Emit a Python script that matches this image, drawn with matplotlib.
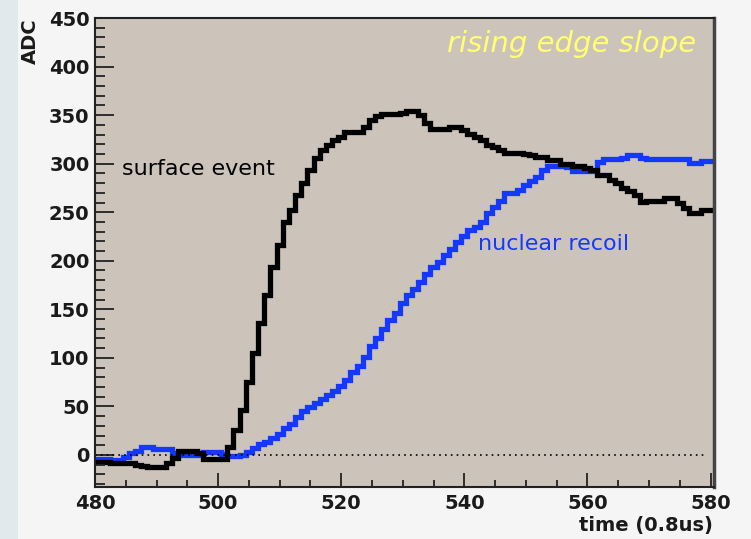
import numpy as np
import matplotlib.pyplot as plt
from matplotlib.patches import Rectangle
from matplotlib.ticker import MultipleLocator

# time bins (units of 0.8 us), one value per bin
time_bins = list(range(480, 581))

surface_event = [
    -7, -7, -7, -8, -8, -8, -8, -10, -11, -12,
    -12, -12, -8, -3, 4, 4, 4, 2, -4, -4,
    -4, -4, 8, 26, 46, 75, 105, 136, 165, 194,
    216, 240, 252, 268, 280, 294, 306, 314, 319, 324,
    328, 333, 333, 333, 338, 345, 349, 351, 351, 351,
    352, 354, 354, 350, 342, 336, 336, 336, 338, 338,
    335, 331, 328, 324, 319, 317, 314, 311, 311, 311,
    310, 309, 307, 307, 304, 304, 300, 300, 298, 298,
    296, 293, 288, 288, 283, 280, 275, 272, 268, 261,
    262, 262, 262, 265, 265, 259, 254, 249, 249, 252, 252,
]

nuclear_recoil = [
    -4, -4, -4, -5, -5, -2, 2, 4, 8, 8,
    6, 6, 6, 2, 0, 0, 0, 0, 3, 3,
    3, 1, -1, -1, 0, 3, 7, 11, 13, 17,
    22, 28, 32, 39, 45, 49, 53, 58, 62, 66,
    71, 77, 85, 92, 101, 112, 120, 130, 139, 146,
    157, 165, 171, 178, 186, 194, 199, 206, 212, 219,
    226, 232, 235, 240, 249, 255, 262, 270, 270, 273,
    278, 282, 286, 293, 298, 298, 298, 297, 292, 292,
    292, 292, 302, 305, 305, 305, 306, 309, 309, 306,
    305, 305, 305, 305, 305, 305, 305, 301, 301, 303, 303,
]

edges = np.append(np.array(time_bins) - 0.5, time_bins[-1] + 0.5)

fig = plt.figure(figsize=(7.51, 5.39), dpi=100, facecolor='#f5f5f5')
# slide background strip on the left
fig.patches.append(Rectangle((0, 0), 18 / 751, 1, transform=fig.transFigure,
                             facecolor='#e2e9ed', edgecolor='none', zorder=0))

ax = fig.add_axes([0.1265, 0.0965, 0.8245, 0.870])
ax.set_facecolor('#ccc4bb')

ax.hlines(0, 480, 579, colors='black', linestyles=(0, (1, 2.5)), linewidth=1.2)
ax.stairs(nuclear_recoil, edges, baseline=None, color='#1438ff', linewidth=3.8)
ax.stairs(surface_event, edges, baseline=None, color='black', linewidth=3.8)

ax.set_xlim(480, 580.6)
ax.set_ylim(-33, 450)

ax.xaxis.set_major_locator(MultipleLocator(20))
ax.xaxis.set_minor_locator(MultipleLocator(5))
ax.yaxis.set_major_locator(MultipleLocator(50))
ax.yaxis.set_minor_locator(MultipleLocator(10))

ax.tick_params(axis='both', which='both', direction='in', top=False, right=False,
               width=1.3, color='#222222')
ax.tick_params(axis='y', which='major', length=14, pad=4)
ax.tick_params(axis='y', which='minor', length=7)
ax.tick_params(axis='x', which='major', length=10, pad=5)
ax.tick_params(axis='x', which='minor', length=5)

for lbl in ax.get_xticklabels() + ax.get_yticklabels():
    lbl.set_fontfamily('DejaVu Sans')
    lbl.set_fontweight('bold')
    lbl.set_fontsize(14)
    lbl.set_color('#1a1a1a')

for side in ['left', 'bottom', 'top']:
    ax.spines[side].set_linewidth(1.5)
    ax.spines[side].set_color('#222222')
ax.spines['right'].set_linewidth(2.5)
ax.spines['right'].set_color('#444444')

fig.text(30 / 751, 1 - 18 / 539, 'ADC', rotation=90, ha='center', va='top',
         fontsize=14, fontweight='bold', color='#1a1a1a')
fig.text(713 / 751, 1 - 525 / 539, 'time (0.8us)', ha='right', va='center',
         fontsize=14, fontweight='bold', color='#1a1a1a')

ax.text(484.4, 295, 'surface event', fontsize=16, color='black', va='center')
ax.text(542.2, 217, 'nuclear recoil', fontsize=16, color='#1438ff', va='center')
ax.text(577.6, 423, 'rising edge slope', fontsize=21, style='italic',
        color='#ffff70', ha='right', va='center')

fig.savefig('out.png', dpi=100, facecolor=fig.get_facecolor())
